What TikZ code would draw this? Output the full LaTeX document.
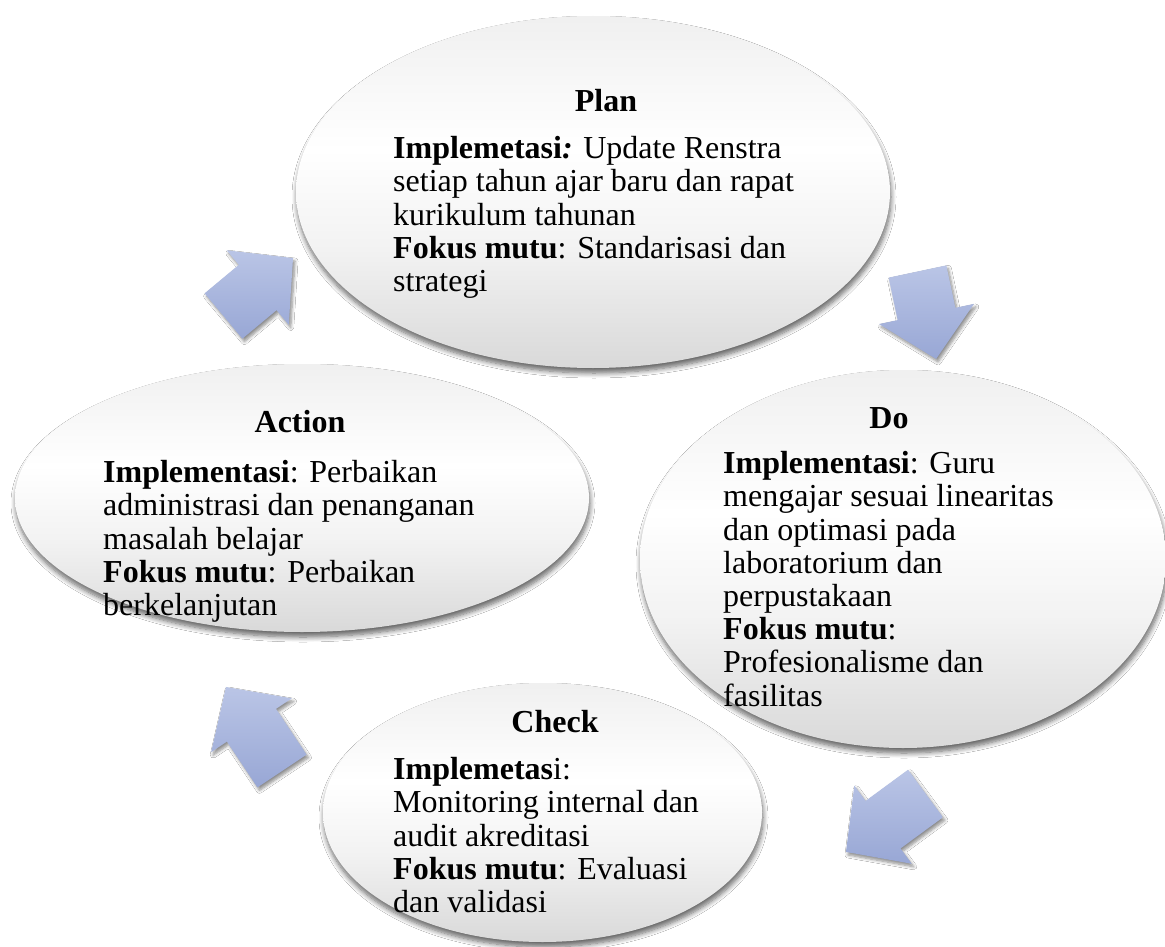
\documentclass[tikz,border=0pt]{standalone}
\usepackage{fontspec}
\setmainfont{Liberation Serif}
\usetikzlibrary{calc,shapes.geometric,shadows.blur}
\definecolor{arrtop}{RGB}{186,197,230}
\definecolor{arrbot}{RGB}{152,167,213}
\pgfdeclareverticalshading{ellshade}{100bp}{color(0bp)=(black!15); color(25bp)=(black!15); color(42bp)=(black!5); color(56bp)=(white); color(75bp)=(black!6); color(100bp)=(black!6)}
\pgfdeclareverticalshading{arrshade}{100bp}{color(0bp)=(arrbot); color(25bp)=(arrbot); color(75bp)=(arrtop); color(100bp)=(arrtop)}
\tikzset{
  ell/.style={shape=ellipse, inner sep=0pt, shading=ellshade,
    blur shadow={shadow xshift=1pt, shadow yshift=-5pt, shadow blur radius=5pt, shadow blur steps=8, shadow opacity=60}},
  ttl/.style={font=\fontsize{32}{33.2}\selectfont\bfseries, anchor=base, inner sep=0pt},
  bodytext/.style={font=\fontsize{32}{33.2}\selectfont, align=left, anchor=north west, inner sep=0pt},
  arrowst/.style={shading=arrshade,
    blur shadow={shadow xshift=2pt, shadow yshift=-3pt, shadow blur radius=3pt, shadow blur steps=6, shadow opacity=45}}
}
\newcommand\pdcaarrow[3]{%
  \path[arrowst] ($(#1)+(#2+90:29.5)$) -- ($(#1)+(#2:#3-46)+(#2+90:29.5)$)
    -- ($(#1)+(#2:#3-46)+(#2+90:48.5)$) -- ($(#1)+(#2:#3)$)
    -- ($(#1)+(#2:#3-46)+(#2-90:48.5)$) -- ($(#1)+(#2:#3-46)+(#2-90:29.5)$)
    -- ($(#1)+(#2-90:29.5)$) -- cycle;}
\begin{document}
\begin{tikzpicture}[x=1pt,y=1pt]
\fill[white] (0,0) rectangle (1165,-947);
\useasboundingbox (0,0) rectangle (1165,-947);
% ellipses
\node[ell, minimum width=439pt, minimum height=259pt] (check) at (542.5,-812.5) {};
\node[ell, minimum width=526pt, minimum height=378pt] (do) at (903,-559) {};
\node[ell, minimum width=574pt, minimum height=268pt] (action) at (302,-498) {};
\node[ell, minimum width=594pt, minimum height=352pt] (plan) at (593,-192) {};
% texts
\node[ttl] (plan-t) at (606,-112) {Plan};
\node[bodytext] (plan-b) at (393,-136.2) {\textbf{Implemetasi\textit{:}} Update Renstra\\ setiap tahun ajar baru dan rapat\\ kurikulum tahunan\\ \textbf{Fokus mutu}: Standarisasi dan\\ strategi};
\node[ttl] (do-t) at (889,-428) {Do};
\node[bodytext] (do-b) at (723,-451.2) {\textbf{Implementasi}: Guru\\ mengajar sesuai linearitas\\ dan optimasi pada\\ laboratorium dan\\ perpustakaan\\ \textbf{Fokus mutu}:\\ Profesionalisme dan\\ fasilitas};
\node[ttl] (check-t) at (555,-732) {Check};
\node[bodytext] (check-b) at (393,-757.2) {\textbf{Implemetas}i:\\ Monitoring internal dan\\ audit akreditasi\\ \textbf{Fokus mutu}: Evaluasi\\ dan validasi};
\node[ttl] (action-t) at (300,-432) {Action};
\node[bodytext] (action-b) at (103,-460.2) {\textbf{Implementasi}: Perbaikan\\ administrasi dan penanganan\\ masalah belajar\\ \textbf{Fokus mutu}: Perbaikan\\ berkelanjutan};
% arrows
\coordinate (a1) at (223.5,-316);
\coordinate (a2) at (917.5,-271.5);
\coordinate (a3) at (925.5,-793.5);
\coordinate (a4) at (282,-771);
\pdcaarrow{a1}{39.8}{90.5}
\pdcaarrow{a2}{-78}{89.4}
\pdcaarrow{a3}{-143.7}{98.7}
\pdcaarrow{a4}{123.7}{101}
\end{tikzpicture}
\end{document}
